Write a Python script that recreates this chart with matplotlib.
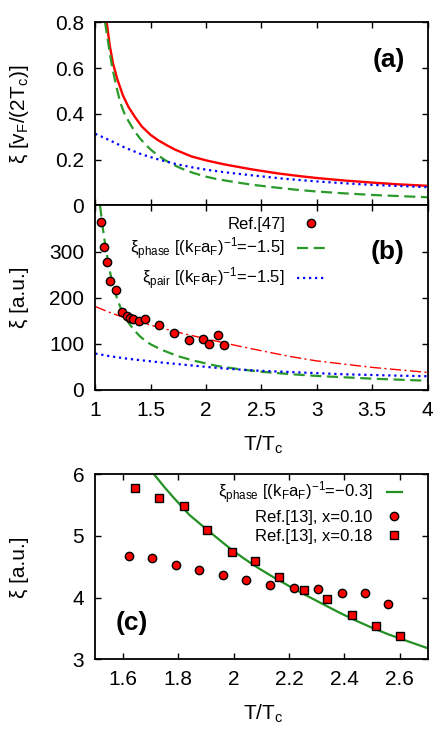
import matplotlib
matplotlib.use('Agg')
import matplotlib.pyplot as plt

plt.rcParams['font.family'] = ['Liberation Sans', 'DejaVu Sans']
plt.rcParams['mathtext.fontset'] = 'custom'
plt.rcParams['mathtext.rm'] = 'Liberation Sans'
plt.rcParams['mathtext.it'] = 'Liberation Sans:italic'
plt.rcParams['mathtext.bf'] = 'Liberation Sans:bold'

# ---------------- panel (a) ----------------
a_red_T = [1.103, 1.13, 1.16, 1.20, 1.25, 1.30, 1.36, 1.42, 1.50, 1.57, 1.65, 1.72,
           1.87, 2.00, 2.17, 2.41, 2.65, 2.85, 3.00, 3.25, 3.50, 3.75, 4.00]
a_red_xi = [0.80, 0.70, 0.62, 0.55, 0.48, 0.43, 0.385, 0.345, 0.308, 0.284, 0.262, 0.244,
            0.214, 0.197, 0.179, 0.158, 0.140, 0.128, 0.120, 0.109, 0.100, 0.092, 0.086]

a_phase_T = [1.088, 1.12, 1.15, 1.19, 1.225, 1.26, 1.30, 1.35, 1.40, 1.45, 1.51, 1.57,
             1.63, 1.70, 1.78, 1.88, 1.99, 2.10, 2.25, 2.41, 2.60, 2.80, 3.00, 3.25,
             3.50, 3.75, 4.00]
a_phase_xi = [0.80, 0.70, 0.61, 0.52, 0.45, 0.405, 0.368, 0.328, 0.295, 0.267, 0.240, 0.218,
              0.198, 0.179, 0.161, 0.143, 0.127, 0.115, 0.103, 0.091, 0.080, 0.0695, 0.061,
              0.053, 0.046, 0.041, 0.036]

a_pair_T = [1.0, 1.12, 1.27, 1.42, 1.57, 1.72, 1.87, 2.02, 2.17, 2.41, 2.7, 3.0, 3.25,
            3.5, 3.75, 4.0]
a_pair_xi = [0.313, 0.287, 0.252, 0.223, 0.201, 0.182, 0.167, 0.155, 0.145, 0.132, 0.117,
             0.105, 0.097, 0.090, 0.085, 0.080]

# ---------------- panel (b) ----------------
b_ref47_T = [1.055, 1.083, 1.105, 1.136, 1.183, 1.239, 1.289, 1.314, 1.338, 1.398, 1.450,
             1.579, 1.710, 1.845, 1.974, 2.030, 2.106, 2.158]
b_ref47_xi = [364, 309, 278, 237, 217, 170, 160, 156, 154, 150, 153, 141, 124, 109, 111,
              99, 120, 97]

b_fit_T = [1.0, 1.12, 1.25, 1.4, 1.6, 1.8, 2.0, 2.25, 2.5, 2.75, 3.0, 3.5, 4.0]
b_fit_xi = [181, 169, 158, 147, 134, 122, 111, 97.5, 85, 73, 63, 49, 38]

b_phase_T = [1.043, 1.06, 1.08, 1.10, 1.13, 1.16, 1.20, 1.25, 1.30, 1.35, 1.40, 1.45,
             1.50, 1.60, 1.75, 1.90, 2.10, 2.30, 2.50, 2.75, 3.00, 3.50, 4.00]
b_phase_xi = [400, 365, 330, 300, 259, 226, 196, 165, 146, 130, 117, 107, 99, 87, 73, 63,
              52, 45, 39.5, 34.5, 30.5, 24.5, 20]

b_pair_T = [1.0, 1.15, 1.3, 1.45, 1.6, 1.75, 1.9, 2.05, 2.2, 2.35, 2.5, 2.75, 3.0, 3.25,
            3.5, 3.75, 4.0]
b_pair_xi = [79, 72.5, 67.5, 63.5, 59.5, 56, 52.5, 49, 46, 43.5, 41.5, 39, 36.5, 34, 32.5,
             31, 29.8]

# ---------------- panel (c) ----------------
c_x010_T = [1.620, 1.704, 1.792, 1.876, 1.962, 2.046, 2.130, 2.219, 2.303, 2.390, 2.475, 2.559]
c_x010_xi = [4.67, 4.65, 4.53, 4.44, 4.37, 4.29, 4.21, 4.16, 4.14, 4.08, 4.07, 3.89]

c_x018_T = [1.645, 1.731, 1.819, 1.904, 1.993, 2.078, 2.165, 2.253, 2.338, 2.426, 2.513, 2.599]
c_x018_xi = [5.77, 5.61, 5.48, 5.10, 4.745, 4.60, 4.34, 4.13, 3.98, 3.71, 3.54, 3.38]

c_phase_T = [1.712, 1.75, 1.783, 1.84, 1.904, 1.95, 1.993, 2.04, 2.085, 2.14, 2.199,
             2.26, 2.32, 2.38, 2.44, 2.50, 2.561, 2.63, 2.70]
c_phase_xi = [6.0, 5.79, 5.62, 5.34, 5.10, 4.93, 4.775, 4.625, 4.49, 4.34, 4.19, 4.04,
              3.90, 3.76, 3.63, 3.51, 3.40, 3.29, 3.18]

a_yticks = [0, 0.2, 0.4, 0.6, 0.8]
a_yticklabels = ['0', '0.2', '0.4', '0.6', '0.8']
b_xticks = [1, 1.5, 2, 2.5, 3, 3.5, 4]
b_xticklabels = ['1', '1.5', '2', '2.5', '3', '3.5', '4']
b_yticks = [0, 100, 200, 300]
c_xticks = [1.6, 1.8, 2.0, 2.2, 2.4, 2.6]
c_xticklabels = ['1.6', '1.8', '2', '2.2', '2.4', '2.6']
c_yticks = [3, 4, 5, 6]

RED = '#ff0000'
GREEN = '#2a9a2a'
GREEN_C = '#229022'
BLUE = '#0000ff'
TICKFS = 15
LABFS = 15
LEGFS = 12
PANFS = 19

fig = plt.figure(figsize=(4.47, 7.40), dpi=100)
axa = fig.add_axes([0.2132, 0.7223, 0.7432, 0.2476])
axb = fig.add_axes([0.2132, 0.4730, 0.7432, 0.2493])
axc = fig.add_axes([0.2132, 0.1091, 0.7432, 0.2500])

for ax in (axa, axb, axc):
    ax.tick_params(direction='in', top=True, right=True, length=4, width=1,
                   labelsize=TICKFS, pad=8)
    for s in ax.spines.values():
        s.set_linewidth(1.3)

dash = (5, 2.5)
dots = (1, 1.7)

# (a)
axa.plot(a_red_T, a_red_xi, color=RED, lw=1.7, solid_capstyle='butt')
axa.plot(a_phase_T, a_phase_xi, color=GREEN, lw=1.6, dashes=dash)
axa.plot(a_pair_T, a_pair_xi, color=BLUE, lw=1.6, dashes=dots)
axa.set_xlim(1, 4)
axa.set_ylim(0, 0.8)
axa.set_xticks(b_xticks)
axa.set_xticklabels([])
axa.set_yticks(a_yticks)
axa.set_yticklabels(a_yticklabels)
axa.set_ylabel(r'ξ [v$_{\mathrm{F}}$/(2T$_{\mathrm{c}}$)]', fontsize=LABFS, va='center')
axa.yaxis.set_label_coords(-0.227, 0.5)
axa.text(0.883, 0.794, '(a)', transform=axa.transAxes, fontsize=PANFS, fontweight='bold',
         ha='center', va='center')

# (b)
axb.plot(b_fit_T, b_fit_xi, color=RED, lw=1.0, dashes=(8, 2.5, 1.5, 2.5))
axb.plot(b_phase_T, b_phase_xi, color=GREEN, lw=1.6, dashes=dash,
         label=r'ξ$_{\mathrm{phase}}$ [(k$_{\mathrm{F}}$a$_{\mathrm{F}}$)$^{-1}$=−1.5]')
axb.plot(b_pair_T, b_pair_xi, color=BLUE, lw=1.6, dashes=dots,
         label=r'ξ$_{\mathrm{pair}}$ [(k$_{\mathrm{F}}$a$_{\mathrm{F}}$)$^{-1}$=−1.5]')
axb.plot(b_ref47_T, b_ref47_xi, 'o', color=RED, mec='black', mew=1.0, ms=6,
         label='Ref.[47]', zorder=5)
axb.set_xlim(1, 4)
axb.set_ylim(0, 400)
axb.set_xticks(b_xticks)
axb.set_xticklabels(b_xticklabels)
axb.set_yticks(b_yticks)
axb.set_ylabel('ξ [a.u.]', fontsize=LABFS, va='center')
axb.yaxis.set_label_coords(-0.227, 0.5)
axb.set_xlabel(r'T/T$_{\mathrm{c}}$', fontsize=LABFS, va='center')
axb.xaxis.set_label_coords(0.505, -0.297)
h, l = axb.get_legend_handles_labels()
order = [2, 0, 1]
axb.legend([h[i] for i in order], [l[i] for i in order], loc='upper right',
           bbox_to_anchor=(0.6915, 0.94), frameon=False, markerfirst=False,
           fontsize=LEGFS, handlelength=1.7, handletextpad=0.7, borderpad=0,
           borderaxespad=0, labelspacing=0.22, numpoints=1)
axb.text(0.881, 0.75, '(b)', transform=axb.transAxes, fontsize=PANFS, fontweight='bold',
         ha='center', va='center')

# (c)
axc.plot(c_phase_T, c_phase_xi, color=GREEN_C, lw=1.6,
         label=r'ξ$_{\mathrm{phase}}$ [(k$_{\mathrm{F}}$a$_{\mathrm{F}}$)$^{-1}$=−0.3]')
axc.plot(c_x010_T, c_x010_xi, 'o', color=RED, mec='black', mew=1.0, ms=6,
         label='Ref.[13], x=0.10', zorder=5)
axc.plot(c_x018_T, c_x018_xi, 's', color=RED, mec='black', mew=1.0, ms=6,
         label='Ref.[13], x=0.18', zorder=5)
axc.set_xlim(1.5, 2.7)
axc.set_ylim(3, 6)
axc.set_xticks(c_xticks)
axc.set_xticklabels(c_xticklabels)
axc.set_yticks(c_yticks)
axc.set_ylabel('ξ [a.u.]', fontsize=LABFS, va='center')
axc.yaxis.set_label_coords(-0.227, 0.5)
axc.set_xlabel(r'T/T$_{\mathrm{c}}$', fontsize=LABFS, va='center')
axc.xaxis.set_label_coords(0.505, -0.297)
axc.legend(loc='upper right', bbox_to_anchor=(0.922, 0.97), frameon=False,
           markerfirst=False, fontsize=LEGFS, handlelength=0.9, handletextpad=0.85,
           borderpad=0, borderaxespad=0, labelspacing=0.22, numpoints=1)
axc.text(0.11, 0.195, '(c)', transform=axc.transAxes, fontsize=PANFS, fontweight='bold',
         ha='center', va='center')

fig.savefig('out.png', dpi=100)
